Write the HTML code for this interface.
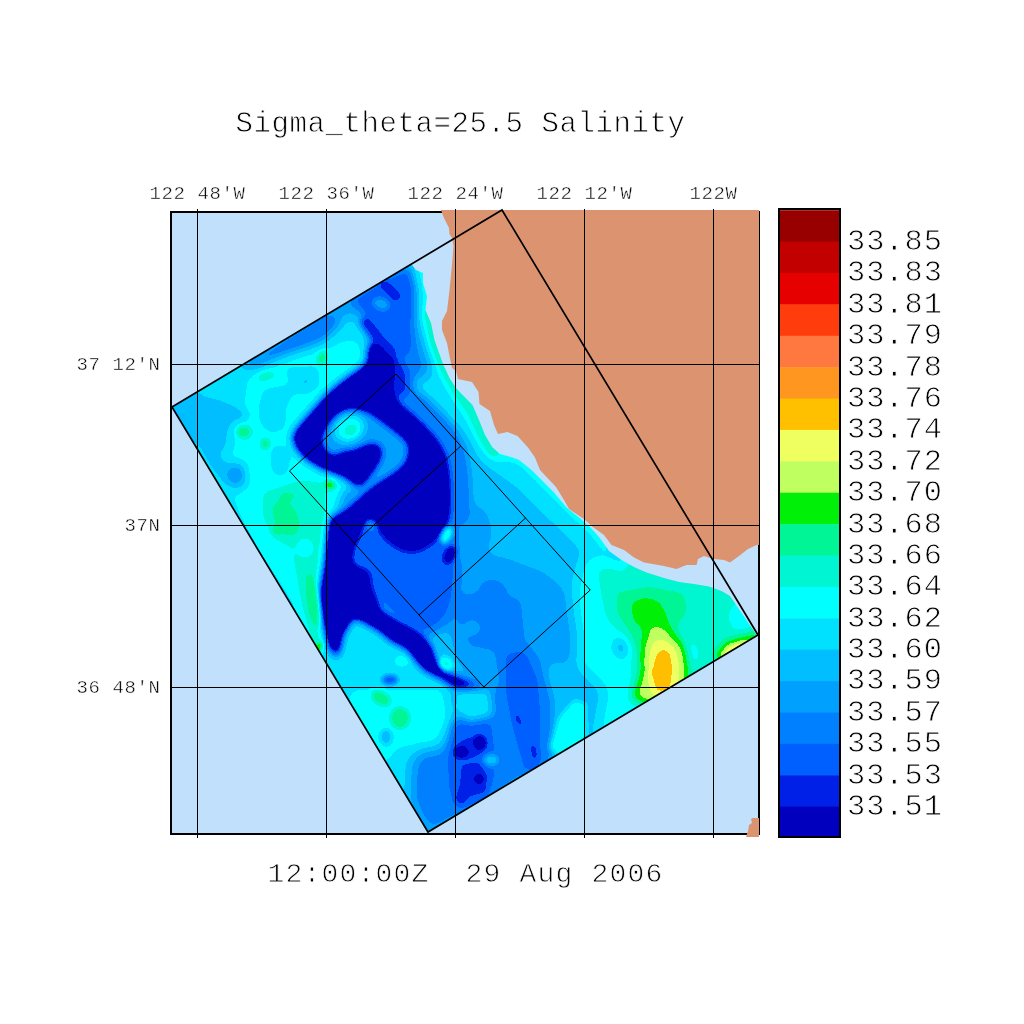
<!DOCTYPE html>
<html lang="en"><head><meta charset="utf-8"><title>Sigma_theta=25.5 Salinity</title>
<style>
html,body{margin:0;padding:0;background:#fff;}
body{width:1024px;height:1024px;overflow:hidden;}
svg{display:block;}
text{font-family:"Liberation Mono","DejaVu Sans Mono",monospace;fill:#000;stroke:#fff;stroke-width:0.8px;white-space:pre;}
text.s{stroke-width:0.45px;}
</style></head><body>
<svg width="1024" height="1024" viewBox="0 0 1024 1024">
<defs>
<filter id="bA" filterUnits="userSpaceOnUse" x="0" y="0" width="1024" height="1024" color-interpolation-filters="sRGB"><feGaussianBlur stdDeviation="6"/></filter>
<filter id="bB" filterUnits="userSpaceOnUse" x="0" y="0" width="1024" height="1024" color-interpolation-filters="sRGB"><feGaussianBlur stdDeviation="3.6"/></filter>
<filter id="bC" filterUnits="userSpaceOnUse" x="0" y="0" width="1024" height="1024" color-interpolation-filters="sRGB"><feGaussianBlur stdDeviation="2"/></filter>
<filter id="cm" filterUnits="userSpaceOnUse" x="0" y="0" width="1024" height="1024" color-interpolation-filters="sRGB">
<feGaussianBlur stdDeviation="0.9"/>
<feComponentTransfer>
<feFuncR type="discrete" tableValues="0.0000 0.0000 0.0000 0.0000 0.0000 0.0000 0.0000 0.0000 0.0000 0.0000 0.0000 0.0000 0.0000 0.0000 0.0000 0.0000 0.0000 0.7529 0.9412 1.0000 1.0000 1.0000 1.0000 0.9020 0.7608 0.5961"/>
<feFuncG type="discrete" tableValues="0.0000 0.0000 0.0000 0.0000 0.0000 0.0000 0.0000 0.1255 0.3765 0.5020 0.6275 0.7451 0.8824 1.0000 0.9608 0.9608 0.9412 1.0000 1.0000 0.7529 0.5882 0.4706 0.2353 0.0000 0.0000 0.0000"/>
<feFuncB type="discrete" tableValues="0.7451 0.7451 0.7451 0.7451 0.7451 0.7451 0.7451 0.9098 1.0000 1.0000 1.0000 1.0000 1.0000 1.0000 0.8235 0.5882 0.0314 0.3765 0.3765 0.0000 0.1255 0.2510 0.0471 0.0000 0.0000 0.0000"/>
<feFuncA type="discrete" tableValues="1 1"/>
</feComponentTransfer>
</filter>
<clipPath id="dom"><polygon points="172,407 502,210 758,635 428,832"/></clipPath>
<clipPath id="frm"><rect x="170" y="210" width="589" height="626"/></clipPath>
<clipPath id="frm2"><rect x="171" y="212" width="588" height="622"/></clipPath>
</defs>
<rect width="1024" height="1024" fill="#fff"/>

<rect x="171" y="212" width="588" height="622" fill="#c0e0fc"/>
<g clip-path="url(#dom)"><g filter="url(#cm)">
<rect x="100" y="150" width="760" height="760" fill="#7b7b7b"/>
<g filter="url(#bC)"><g filter="url(#bB)"><g filter="url(#bA)">
<rect x="100" y="150" width="760" height="760" fill="#7b7b7b"/>
<polygon fill="#848484" points="250,362 290,350 320,352 345,340 364,342 366,366 345,378 325,395 300,420 290,440 295,455 310,465 335,478 345,495 330,518 326,560 320,600 322,650 305,625 285,590 262,555 240,515 228,480 235,440 245,400"/>
<polygon fill="#5d5d5d" points="236,368 300,328 345,300 420,254 428,275 428,300 430,320 436,345 440,365 420,380 395,378 372,348 368,330 352,308 338,322 320,338 300,348 280,356 258,366"/>
<polygon fill="#717171" points="455,420 470,440 500,470 540,500 580,540 600,570 585,600 560,640 540,690 500,700 460,690 440,660 440,560 450,480"/>
<polygon fill="#676767" points="455,560 500,555 545,572 575,598 590,640 586,690 560,698 520,690 480,690 455,660 445,610"/>
<polyline fill="none" stroke="#7b7b7b" stroke-width="34" stroke-linecap="round" stroke-linejoin="round" points="425,270 432,320 448,370 475,415 495,450 530,475 570,515 606,550"/>
<polygon fill="#848484" points="583,556 610,560 650,640 645,715 600,738 572,705 578,640 572,600"/>
<polygon fill="#8e8e8e" points="596,562 640,570 700,585 760,600 765,640 700,680 660,705 640,715 634,690 630,640 606,622 600,592"/>
<polygon fill="#5d5d5d" points="452,690 545,690 550,720 545,765 500,795 428,836 410,800 412,760 430,745 448,730"/>
<polygon fill="#717171" points="545,664 578,664 605,690 595,740 565,765 548,745"/>
<polygon fill="#848484" points="335,660 345,690 400,690 450,690 455,720 440,750 400,745 380,770 360,730"/>
<ellipse fill="#676767" cx="476" cy="532" rx="16" ry="28" transform="rotate(0 476 532)"/>
<polygon fill="#535353" points="352,525 455,520 458,560 455,600 445,625 425,640 400,625 380,608 365,590 350,560"/>
</g>
<polygon fill="#717171" points="165,408 196.6,389 203,396 220,400 239.8,408 249,414.8 244.8,420 231.5,422 228,433 226.5,446.3 219.8,455 211.5,448 198.2,445 190,440"/>
<polygon fill="#717171" points="196,440 212,450 226,462 245,462 248,485 236,492 224,484 210,465"/>
<ellipse fill="#676767" cx="235.5" cy="475" rx="6" ry="8" transform="rotate(0 235.5 475)"/>
<polygon fill="#7b7b7b" points="263,390 286,385 293,395 286,406.5 286,420 283,430 270,433 260,423 258,410"/>
<polygon fill="#7b7b7b" points="286,368 318,366 320,385 305,395 290,392"/>
<ellipse fill="#717171" cx="306" cy="382" rx="5" ry="6" transform="rotate(0 306 382)"/>
<polygon fill="#7b7b7b" points="270,446 286,446 290,462 286,476 272,474"/>
<polygon fill="#5d5d5d" points="460,596 490,592 520,600 524,640 540,660 552,700 552,760 540,778 515,772 505,720 500,680 495,650 470,645 458,625"/>
<polygon fill="#535353" points="506,654 525,652 537,680 540,720 539,770 526,772 514,730 506,690"/>
<ellipse fill="#676767" cx="472" cy="628" rx="10" ry="9" transform="rotate(0 472 628)"/>
<polyline fill="none" stroke="#848484" stroke-width="15" stroke-linecap="round" stroke-linejoin="round" points="424,268 429,320 443,366 468,408 488,446 500,456"/>
<polyline fill="none" stroke="#848484" stroke-width="7" stroke-linecap="round" stroke-linejoin="round" points="500,456 522,463 545,486 568,510 590,530 606,549"/>
<polyline fill="none" stroke="#989898" stroke-width="8.5" stroke-linecap="round" stroke-linejoin="round" points="429,312 435,345 446,370 458,391 474,413 484,437 494,453"/>
<polygon fill="#989898" points="616,592 650,586 685,593 687,612 676,628 688,655 690,690 640,705 636,650 626,628 616,612"/>
<ellipse fill="#717171" cx="621" cy="648" rx="7" ry="10" transform="rotate(-20 621 648)"/>
<polyline fill="none" stroke="#8e8e8e" stroke-width="14" stroke-linecap="round" stroke-linejoin="round" points="632,566 650,574 680,582 710,588 732,598"/>
<ellipse fill="#848484" cx="742" cy="617" rx="13" ry="14" transform="rotate(0 742 617)"/>
<ellipse fill="#848484" cx="691" cy="654" rx="7" ry="12" transform="rotate(0 691 654)"/>
<polygon fill="#535353" points="452,722 490,722 495,760 490,800 460,812 450,790 448,750"/>
<polygon fill="#7b7b7b" points="456,690 490,690 493,715 470,722 456,712"/>
<polygon fill="#8e8e8e" points="263,492 300,480 325,482 328,520 327,560 322,600 322,640 320,660 311,650 302,610 297,580 291,548 272,538 262,515"/>
<ellipse fill="#848484" cx="305" cy="548" rx="9" ry="10" transform="rotate(0 305 548)"/>
<ellipse fill="#5d5d5d" cx="493" cy="592" rx="14" ry="12" transform="rotate(20 493 592)"/>
<polygon fill="#535353" points="350,300 385,278 410,268 416,290 414,320 412,345 405,368 390,372 386,352 372,345 368,325 362,308"/>
<polygon fill="#5d5d5d" points="243,367 300,330 328,313 340,324 324,340 300,349 275,357 255,366"/>
<polyline fill="none" stroke="#5d5d5d" stroke-width="27" stroke-linecap="round" stroke-linejoin="round" points="402,368 400,386 404,396 410,402 419,408 431,420 445,436 453,452 456,470 457.5,490 457,512"/>
<polygon fill="#0f0f0f" points="370,346 378,344 385,348 389,358 390,371 388,388 393,400 400,408 410,416 423,428 436,443 443,456 446,471 447.5,490 447.5,505 446,520 440,530 430,540 417.5,547.5 405,547.5 392.5,540 382.5,530 377.5,520 367.5,515 357.5,532 352,545 350,555 351,566 366,574 368,588 373,598 379,612 397,624 412,632 424,640 431,648 434,660 446,674 466,682 483,687 455,686 440,677 425,669 417,660 408,648 392,640 380,630 366,622 353,616 342,634 337,657 330,647 324,622 319,600 325,565 329,527 333,515 345,500 359.8,484.5 353,482.8 348,477.8 336.5,472.8 323.2,467.9 308.3,459.6 298.3,449.6 294,439.6 295,433 303.3,423 314.9,409.7 326.5,396.4 339.8,384.8 353,375 363,368 368,363"/>
<polygon fill="#4a4a4a" points="386,350 398,356 408,372 409,392 400,398 392,396 389,380 390,366"/>
<polygon fill="#676767" points="319,439.6 323.2,428 331.5,416.4 339.8,409.7 348,406.4 359.8,407.2 371.4,411.4 383,419.7 396.3,429.7 406.3,438 411.3,446.3 409.6,459.6 403,469.5 393,476.2 383,482.8 373,489.5 363,498 352,508 342,515 331,519 329,508 336,496 348,489 359.8,486 364.8,479.5 369.7,472.8 376.4,462.9 380.5,452.9 378,446.3 369.7,445.4 361.4,449.6 353,452.9 344.8,452.9 336.5,457.9 328.2,456.2 321.6,449.6"/>
<polygon fill="#848484" points="326,520 326,500 331,486 340,480 344,488 340,500 336,512"/>
<ellipse fill="#848484" cx="349" cy="428" rx="16" ry="13" transform="rotate(-30 349 428)"/>
<ellipse fill="#989898" cx="351.5" cy="431" rx="7" ry="5" transform="rotate(-30 351.5 431)"/>
<polygon fill="#a2a2a2" points="631,603 645,598 658,601 665,612 669,626 680,638 688,652 690,672 686,690 650,705 630,700 634,686 640,668 641,645 645,632 634,620"/>
<polygon fill="#acacac" points="651,626 663,628 671,638 682,646 684,660 686,676 684,690 650,705 637,695 641,684 646,672 644,658 646,644"/>
<polygon fill="#b5b5b5" points="653,640 665,639 677,651 680,670 677,690 655,700 649,682 648,662 650,647"/>
<polygon fill="#bfbfbf" points="660,648 670,650 673,666 671,690 656,695 651,677 652,665 656,655"/>
<polygon fill="#a2a2a2" points="712,655 725,640 745,634 760,630 762,642 720,665"/>
</g>
<ellipse fill="#c9c9c9" cx="654.5" cy="672.5" rx="2.5" ry="2.5" transform="rotate(0 654.5 672.5)"/>
<polygon fill="#b5b5b5" points="720,656 728,645 745,640 752,642 722,660"/>
<ellipse fill="#8e8e8e" cx="266" cy="376" rx="10" ry="5" transform="rotate(-15 266 376)"/>
<ellipse fill="#989898" cx="244" cy="432" rx="8" ry="7" transform="rotate(0 244 432)"/>
<ellipse fill="#989898" cx="265.5" cy="444" rx="5" ry="6" transform="rotate(0 265.5 444)"/>
<ellipse fill="#989898" cx="322" cy="358" rx="5" ry="8" transform="rotate(20 322 358)"/>
<ellipse fill="#989898" cx="287" cy="497" rx="8" ry="5" transform="rotate(0 287 497)"/>
<ellipse fill="#a2a2a2" cx="330" cy="485" rx="6" ry="5" transform="rotate(0 330 485)"/>
<ellipse fill="#676767" cx="235" cy="475" rx="8" ry="8" transform="rotate(0 235 475)"/>
<ellipse fill="#a2a2a2" cx="278" cy="530" rx="5" ry="4" transform="rotate(0 278 530)"/>
<ellipse fill="#a2a2a2" cx="315" cy="611" rx="2.5" ry="5" transform="rotate(20 315 611)"/>
<ellipse fill="#acacac" cx="319" cy="647" rx="3" ry="6" transform="rotate(25 319 647)"/>
<ellipse fill="#989898" cx="286" cy="518" rx="12" ry="19" transform="rotate(-25 286 518)"/>
<ellipse fill="#989898" cx="313" cy="600" rx="7" ry="28" transform="rotate(-8 313 600)"/>
<polyline fill="none" stroke="#4a4a4a" stroke-width="9" stroke-linecap="round" stroke-linejoin="round" points="383,283 396,296"/>
<polyline fill="none" stroke="#4a4a4a" stroke-width="11" stroke-linecap="round" stroke-linejoin="round" points="366,323 378,339 390,352"/>
<ellipse fill="#676767" cx="381" cy="304" rx="9" ry="6" transform="rotate(20 381 304)"/>
<ellipse fill="#898989" cx="446.5" cy="535" rx="5" ry="9" transform="rotate(25 446.5 535)"/>
<ellipse fill="#363636" cx="450" cy="555" rx="5" ry="9" transform="rotate(25 450 555)"/>
<ellipse fill="#4a4a4a" cx="470" cy="748" rx="17" ry="10" transform="rotate(-25 470 748)"/>
<ellipse fill="#2c2c2c" cx="480" cy="742.5" rx="5" ry="6" transform="rotate(0 480 742.5)"/>
<ellipse fill="#2c2c2c" cx="461" cy="752" rx="6" ry="4.5" transform="rotate(0 461 752)"/>
<polygon fill="#4a4a4a" points="462,765 478,762 487,775 486,792 470,796 462,806 454,800 460,785"/>
<ellipse fill="#363636" cx="479" cy="779" rx="4" ry="4" transform="rotate(0 479 779)"/>
<ellipse fill="#4a4a4a" cx="518" cy="720" rx="2.5" ry="7" transform="rotate(-25 518 720)"/>
<ellipse fill="#4a4a4a" cx="534.5" cy="752" rx="3" ry="9" transform="rotate(-12 534.5 752)"/>
<ellipse fill="#717171" cx="491" cy="760" rx="8" ry="6" transform="rotate(0 491 760)"/>
<polygon fill="#848484" points="549,748 558,718 574,700 586,703 586,738 562,759"/>
<ellipse fill="#8a8a8a" cx="446" cy="664" rx="8" ry="7" transform="rotate(30 446 664)"/>
<ellipse fill="#4a4a4a" cx="388" cy="680.5" rx="6" ry="4" transform="rotate(0 388 680.5)"/>
<ellipse fill="#989898" cx="381" cy="698" rx="11" ry="7" transform="rotate(30 381 698)"/>
<ellipse fill="#989898" cx="400" cy="718" rx="10" ry="11" transform="rotate(0 400 718)"/>
<ellipse fill="#848484" cx="402" cy="661" rx="8" ry="6" transform="rotate(0 402 661)"/>
<ellipse fill="#535353" cx="390" cy="680" rx="8" ry="5" transform="rotate(0 390 680)"/>
<ellipse fill="#717171" cx="386" cy="737" rx="6" ry="8" transform="rotate(0 386 737)"/>
</g>

</g></g>
<g clip-path="url(#frm2)"><polygon fill="#c0e0fc" points="405,255 412,265 416,270 423,273 423,283 427,296.5 425.4,310 431,323 434.5,340 438,350 443,364 449.5,378 456,388 465,397.5 472.5,405 479,420 485,435 492.5,447.5 500,454 512.5,457.5 519,460 531.5,470 544,482.5 554,492.5 566.5,507.5 579,517.5 589,526 599,537 609,551 621.5,560 634,567 646.5,572.5 664,578 679,582 694,584 709,586.5 721.5,591 730,596 760,640 765,540 700,540 600,500 520,420 470,370 460,300 460,240 430,240"/></g>
<rect x="171" y="212" width="588" height="622" fill="none" stroke="#000" stroke-width="2"/>
<g clip-path="url(#frm)"><polygon fill="#dc9470" points="440.5,205 441,210 444,218 447,224 449,228 449.5,234 452,238 453.5,246 452,265 449.5,290 447,311 442,321 442,330 447,343 449.5,356 452,368 456,371 458,379 472,382 478.5,392 479.5,404 490,411 494,425 498,434 507.5,432 517.5,436 528,447.5 535,457.5 540,470 547.5,478 556,487 564,500 569,509 584,519 591.5,526 604,535 611.5,545 624,550 634,557.5 644,562.5 664,566 676.5,569 686.5,565 696.5,565 698,559 704,556 714,559 724,560 730,562.5 739,556 748,549 756.5,545 762,545 762,205"/></g>
<polygon fill="#dc9470" points="746,837 748,831 749,825 752,823 751,819 753,818 759,818 759,837"/>
<rect x="759" y="211" width="1" height="624" fill="#000"/>
<rect x="197" y="209" width="1" height="629" fill="#000"/>
<rect x="326" y="209" width="1" height="629" fill="#000"/>
<rect x="455" y="209" width="1" height="629" fill="#000"/>
<rect x="584" y="209" width="1" height="629" fill="#000"/>
<rect x="713" y="209" width="1" height="629" fill="#000"/>
<rect x="170" y="364" width="590" height="1" fill="#000"/>
<rect x="170" y="525" width="590" height="1" fill="#000"/>
<rect x="170" y="687" width="590" height="1" fill="#000"/>
<g fill="none" stroke="#000" stroke-width="1">
<polygon points="289.5,471 396,374 590.25,590 483.75,687"/>
<line x1="354.25" y1="543" x2="460.75" y2="446"/>
<line x1="419" y1="615" x2="525.5" y2="518"/>
</g>
<polygon points="172,407 502,210 758,635 428,832" fill="none" stroke="#000" stroke-width="1.7" stroke-linejoin="miter"/>
<rect x="779" y="210.20" width="61" height="31.89" fill="rgb(152,0,0)"/>
<rect x="779" y="241.59" width="61" height="31.89" fill="rgb(194,0,0)"/>
<rect x="779" y="272.98" width="61" height="31.89" fill="rgb(230,0,0)"/>
<rect x="779" y="304.37" width="61" height="31.89" fill="rgb(255,60,12)"/>
<rect x="779" y="335.76" width="61" height="31.89" fill="rgb(255,120,64)"/>
<rect x="779" y="367.15" width="61" height="31.89" fill="rgb(255,150,32)"/>
<rect x="779" y="398.54" width="61" height="31.89" fill="rgb(255,192,0)"/>
<rect x="779" y="429.93" width="61" height="31.89" fill="rgb(240,255,96)"/>
<rect x="779" y="461.32" width="61" height="31.89" fill="rgb(192,255,96)"/>
<rect x="779" y="492.71" width="61" height="31.89" fill="rgb(0,240,8)"/>
<rect x="779" y="524.10" width="61" height="31.89" fill="rgb(0,245,150)"/>
<rect x="779" y="555.49" width="61" height="31.89" fill="rgb(0,245,210)"/>
<rect x="779" y="586.88" width="61" height="31.89" fill="rgb(0,255,255)"/>
<rect x="779" y="618.27" width="61" height="31.89" fill="rgb(0,225,255)"/>
<rect x="779" y="649.66" width="61" height="31.89" fill="rgb(0,190,255)"/>
<rect x="779" y="681.05" width="61" height="31.89" fill="rgb(0,160,255)"/>
<rect x="779" y="712.44" width="61" height="31.89" fill="rgb(0,128,255)"/>
<rect x="779" y="743.83" width="61" height="31.89" fill="rgb(0,96,255)"/>
<rect x="779" y="775.22" width="61" height="31.89" fill="rgb(0,32,232)"/>
<rect x="779" y="806.61" width="61" height="30.39" fill="rgb(0,0,190)"/>
<rect x="779" y="209" width="61" height="628" fill="none" stroke="#000" stroke-width="2"/>
<text class="t" x="847" y="250" font-size="30.3" letter-spacing="1" text-anchor="start" xml:space="preserve">33.85</text>
<text class="t" x="847" y="281.39" font-size="30.3" letter-spacing="1" text-anchor="start" xml:space="preserve">33.83</text>
<text class="t" x="847" y="312.78" font-size="30.3" letter-spacing="1" text-anchor="start" xml:space="preserve">33.81</text>
<text class="t" x="847" y="344.17" font-size="30.3" letter-spacing="1" text-anchor="start" xml:space="preserve">33.79</text>
<text class="t" x="847" y="375.56" font-size="30.3" letter-spacing="1" text-anchor="start" xml:space="preserve">33.78</text>
<text class="t" x="847" y="406.95" font-size="30.3" letter-spacing="1" text-anchor="start" xml:space="preserve">33.76</text>
<text class="t" x="847" y="438.34" font-size="30.3" letter-spacing="1" text-anchor="start" xml:space="preserve">33.74</text>
<text class="t" x="847" y="469.73" font-size="30.3" letter-spacing="1" text-anchor="start" xml:space="preserve">33.72</text>
<text class="t" x="847" y="501.12" font-size="30.3" letter-spacing="1" text-anchor="start" xml:space="preserve">33.70</text>
<text class="t" x="847" y="532.51" font-size="30.3" letter-spacing="1" text-anchor="start" xml:space="preserve">33.68</text>
<text class="t" x="847" y="563.9" font-size="30.3" letter-spacing="1" text-anchor="start" xml:space="preserve">33.66</text>
<text class="t" x="847" y="595.29" font-size="30.3" letter-spacing="1" text-anchor="start" xml:space="preserve">33.64</text>
<text class="t" x="847" y="626.68" font-size="30.3" letter-spacing="1" text-anchor="start" xml:space="preserve">33.62</text>
<text class="t" x="847" y="658.07" font-size="30.3" letter-spacing="1" text-anchor="start" xml:space="preserve">33.60</text>
<text class="t" x="847" y="689.46" font-size="30.3" letter-spacing="1" text-anchor="start" xml:space="preserve">33.59</text>
<text class="t" x="847" y="720.85" font-size="30.3" letter-spacing="1" text-anchor="start" xml:space="preserve">33.57</text>
<text class="t" x="847" y="752.24" font-size="30.3" letter-spacing="1" text-anchor="start" xml:space="preserve">33.55</text>
<text class="t" x="847" y="783.63" font-size="30.3" letter-spacing="1" text-anchor="start" xml:space="preserve">33.53</text>
<text class="t" x="847" y="815.02" font-size="30.3" letter-spacing="1" text-anchor="start" xml:space="preserve">33.51</text>
<text class="t" x="235.5" y="132" font-size="29" letter-spacing="0.6" text-anchor="start" xml:space="preserve">Sigma_theta=25.5 Salinity</text>
<text class="t" x="267.5" y="882" font-size="28" letter-spacing="1.2" text-anchor="start" xml:space="preserve">12:00:00Z  29 Aug 2006</text>
<text class="s" x="149.5" y="199" font-size="19" letter-spacing="0.6" text-anchor="start" xml:space="preserve">122 48&#39;W</text>
<text class="s" x="278.5" y="199" font-size="19" letter-spacing="0.6" text-anchor="start" xml:space="preserve">122 36&#39;W</text>
<text class="s" x="407.5" y="199" font-size="19" letter-spacing="0.6" text-anchor="start" xml:space="preserve">122 24&#39;W</text>
<text class="s" x="536.5" y="199" font-size="19" letter-spacing="0.6" text-anchor="start" xml:space="preserve">122 12&#39;W</text>
<text class="s" x="689.5" y="199" font-size="19" letter-spacing="0.6" text-anchor="start" xml:space="preserve">122W</text>
<text class="s" x="76.5" y="370.2" font-size="19" letter-spacing="0.6" text-anchor="start" xml:space="preserve">37 12&#39;N</text>
<text class="s" x="124.5" y="531.2" font-size="19" letter-spacing="0.6" text-anchor="start" xml:space="preserve">37N</text>
<text class="s" x="76.5" y="693.2" font-size="19" letter-spacing="0.6" text-anchor="start" xml:space="preserve">36 48&#39;N</text>
</svg></body></html>
